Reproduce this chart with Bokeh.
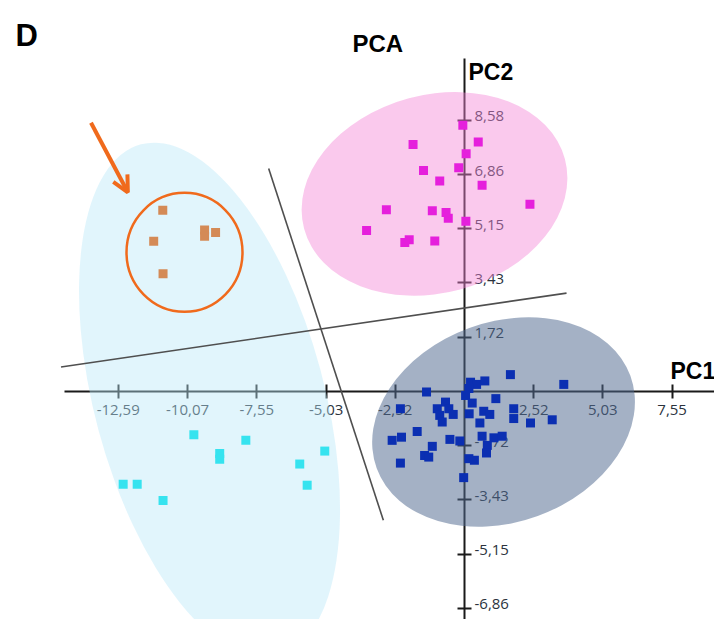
from bokeh.plotting import figure
from bokeh.models import LinearAxis, FixedTicker, Label, Arrow, OpenHead
from bokeh.core.properties import value
from bokeh.embed import file_html
from bokeh.resources import INLINE
import math

# ---------------- data ----------------
x_ticks = [-12.59, -10.07, -7.55, -5.03, -2.52, 2.52, 5.03, 7.55]
x_tick_labels = ["-12,59", "-10,07", "-7,55", "-5,03", "-2,52", "2,52", "5,03", "7,55"]
y_ticks = [8.58, 6.86, 5.15, 3.43, 1.72, -1.72, -3.43, -5.15, -6.86]
y_tick_labels = ["8,58", "6,86", "5,15", "3,43", "1,72", "-1,72", "-3,43", "-5,15", "-6,86"]

pink_x = [-0.06, 0.50, -1.87, 0.06, -0.21, -1.49, -0.90, 0.64, 2.38, -2.84, -1.17, -0.67, -0.59, 0.05, -3.56, -2.01, -2.17, -1.08]
pink_y = [8.42, 7.89, 7.81, 7.52, 7.08, 6.99, 6.66, 6.52, 5.92, 5.75, 5.72, 5.66, 5.48, 5.38, 5.09, 4.80, 4.71, 4.76]

blue_x = [1.67, 3.61, 0.22, 0.44, 0.74, 0.16, -1.38, 0.04, 1.14, 0.28, -2.33, -0.69, -0.99, -0.57,
          -0.90, -0.41, 0.17, 0.70, 0.92, 1.79, 1.79, -0.81, 0.56, 2.40, 3.19, -1.72, -2.63, -2.29,
          -0.53, -0.17, 0.64, 1.07, 1.37, 0.83, -1.17, -1.45, -1.30, 0.80, 0.16, 0.36, -2.33, -0.03]
blue_y = [0.53, 0.22, 0.29, 0.22, 0.33, 0.09, -0.02, -0.13, -0.23, -0.37, -0.55, -0.34, -0.55, -0.55,
          -0.76, -0.73, -0.71, -0.63, -0.73, -0.55, -0.86, -0.97, -1.00, -1.00, -0.90, -1.27, -1.55, -1.45,
          -1.52, -1.57, -1.42, -1.47, -1.42, -1.71, -1.74, -2.03, -2.08, -1.95, -2.13, -2.18, -2.27, -2.73]

cyan_x = [-9.84, -7.95, -8.90, -8.90, -5.08, -5.99, -5.72, -12.41, -11.90, -10.96]
cyan_y = [-1.37, -1.55, -1.97, -2.15, -1.89, -2.30, -2.97, -2.94, -2.94, -3.45]

brown_x = [-10.97, -11.30, -9.45, -9.45, -9.05, -10.96]
brown_y = [5.73, 4.75, 5.11, 4.91, 5.03, 3.72]

# group ellipses (centre in PC units)
ell_x = [-9.27, -1.09, 1.42]
ell_y = [-0.28, 6.25, -0.97]
ell_w = [230, 270, 270]
ell_h = [530, 198, 200]
ell_angle_deg = [15, 15, 20]
ell_color = ["#b8e6f8", "#f383d6", "#51698f"]
ell_alpha = [0.42, 0.44, 0.52]

# highlighted sub-group circle
circle_x = [-10.18]
circle_y = [4.40]

# separating lines
sep_x0 = [-14.67, -7.12]
sep_y0 = [0.77, 7.05]
sep_x1 = [3.71, -2.95]
sep_y1 = [3.11, -4.08]

# arrow
arrow_start = (-13.58, 8.50)
arrow_end = (-12.24, 6.30)

# ---------------- figure ----------------
W, H = 714, 619
p = figure(width=W, height=H, x_range=(-16.87, 9.09), y_range=(-7.22, 12.37),
           x_axis_type=None, y_axis_type=None, toolbar_location=None,
           output_backend="svg", min_border=0)
p.outline_line_color = None
p.background_fill_color = "white"
p.border_fill_color = "white"

label_color = "#2b333d"
axis_color = "#1a1a1a"
tick_font_size = "15px"

xaxis = LinearAxis(ticker=FixedTicker(ticks=x_ticks),
                   major_label_overrides={t: l for t, l in zip(x_ticks, x_tick_labels)},
                   fixed_location=0, bounds=(-14.55, 9.09))
xaxis.axis_line_color = axis_color
xaxis.axis_line_width = 2
xaxis.major_tick_in = 7
xaxis.major_tick_out = 7
xaxis.major_tick_line_width = 2
xaxis.major_tick_line_color = axis_color
xaxis.minor_tick_line_color = None
xaxis.major_label_text_font = "Open Sans"
xaxis.major_label_text_font_size = tick_font_size
xaxis.major_label_text_color = label_color
xaxis.major_label_standoff = 7
xaxis.level = "underlay"
p.add_layout(xaxis, "below")

yaxis = LinearAxis(ticker=FixedTicker(ticks=y_ticks),
                   major_label_overrides={t: "" for t in y_ticks},
                   fixed_location=0, bounds=(-7.3, 10.55))
yaxis.axis_line_color = axis_color
yaxis.axis_line_width = 2
yaxis.major_tick_in = 7
yaxis.major_tick_out = 7
yaxis.major_tick_line_width = 2
yaxis.major_tick_line_color = axis_color
yaxis.minor_tick_line_color = None
yaxis.level = "underlay"
p.add_layout(yaxis, "right")

# y tick labels (sitting on the tick, right of the axis)
p.text(x=[0] * len(y_ticks), y=y_ticks, text=y_tick_labels, x_offset=10, y_offset=-4,
       text_baseline="alphabetic", text_align="left",
       text_font=value("Open Sans"), text_font_size=tick_font_size, text_color=label_color)

# ellipses
for i in range(len(ell_x)):
    p.ellipse(x=[ell_x[i]], y=[ell_y[i]], width=[ell_w[i]], height=[ell_h[i]],
              width_units="screen", height_units="screen",
              angle=[math.radians(ell_angle_deg[i])],
              fill_color=ell_color[i], fill_alpha=ell_alpha[i], line_color=None)

# separator lines
p.segment(x0=sep_x0, y0=sep_y0, x1=sep_x1, y1=sep_y1, line_color="#4f4f4f", line_width=1.6)

# orange circle
p.ellipse(x=circle_x, y=circle_y, width=[116], height=[119],
          width_units="screen", height_units="screen",
          fill_color=None, line_color="#f06a1c", line_width=2.5)

# points
p.scatter(x=pink_x, y=pink_y, marker="square", size=9, fill_color="#e520dc", line_color=None)
p.scatter(x=blue_x, y=blue_y, marker="square", size=9, fill_color="#0b2fb2", line_color=None)
p.scatter(x=cyan_x, y=cyan_y, marker="square", size=9, fill_color="#36e3ef", line_color=None)
p.scatter(x=brown_x, y=brown_y, marker="square", size=9, fill_color="#d48a56", line_color=None)

# arrow
p.add_layout(Arrow(x_start=arrow_start[0], y_start=arrow_start[1],
                   x_end=arrow_end[0], y_end=arrow_end[1],
                   line_color="#f06a1c", line_width=4,
                   end=OpenHead(size=16, line_color="#f06a1c", line_width=4)))

# texts
p.add_layout(Label(x=15, y=H - 35, x_units="screen", y_units="screen", text="D",
                   text_font="Liberation Sans", text_font_style="bold", text_font_size="31px",
                   text_color="black", text_baseline="alphabetic"))
p.add_layout(Label(x=352, y=H - 43, x_units="screen", y_units="screen", text="PCA",
                   text_font="Liberation Sans", text_font_style="bold", text_font_size="24px",
                   text_color="black", text_baseline="alphabetic"))
p.add_layout(Label(x=0, y=10.12, x_offset=4, text="PC2",
                   text_font="Liberation Sans", text_font_style="bold", text_font_size="23px",
                   text_color="black", text_baseline="alphabetic"))
p.add_layout(Label(x=7.49, y=0.66, text="PC1",
                   text_font="Liberation Sans", text_font_style="bold", text_font_size="23px",
                   text_color="black", text_baseline="alphabetic"))

open("out.html", "w").write(file_html(p, INLINE))
